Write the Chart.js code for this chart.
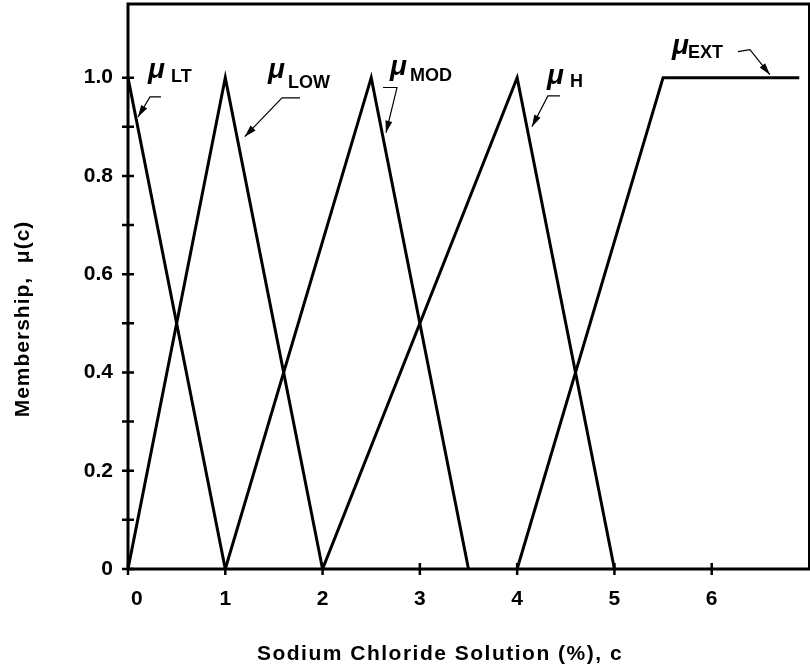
<!DOCTYPE html>
<html>
<head>
<meta charset="utf-8">
<script src="https://cdn.jsdelivr.net/npm/chart.js@4.4.0/dist/chart.umd.min.js"></script>
<style>
  html, body { margin: 0; padding: 0; background: #fff; }
  #wrap { width: 810px; height: 671px; }
</style>
</head>
<body>
<div id="wrap"><canvas id="chart" width="810" height="671"></canvas></div>
<script>
// membership functions (x = % NaCl, y = membership)
const ltX = [0, 1];
const ltY = [1, 0];
const lowX = [0, 1, 2];
const lowY = [0, 1, 0];
const modX = [1, 2.5, 3.5];
const modY = [0, 1, 0];
const hX = [2, 4, 5];
const hY = [0, 1, 0];
const extX = [4, 5.5, 6.9];
const extY = [0, 1, 1];

const xTicks = [0, 1, 2, 3, 4, 5, 6];
const yTicks = [0, 0.1, 0.2, 0.3, 0.4, 0.5, 0.6, 0.7, 0.8, 0.9, 1.0];
const yLabels = { 0: '0', 0.2: '0.2', 0.4: '0.4', 0.6: '0.6', 0.8: '0.8', 1: '1.0' };

const xTitle = 'Sodium Chloride Solution (%), c';
const yTitle = 'Membership,  \u03BC(c)';

const toPts = (xs, ys) => xs.map((x, i) => ({ x: x, y: ys[i] }));

// label placement (data units): mu position, subscript position, leader path (start, bend, tip)
const notes = [
    { sub: 'LT',  mu: [0.206, 1.016], s: [0.442, 1.002], path: [[0.339, 0.961], [0.226, 0.961], [0.103, 0.920]] },
    { sub: 'LOW', mu: [1.439, 1.016], s: [1.644, 0.990], path: [[1.768, 0.959], [1.583, 0.959], [1.200, 0.880]] },
    { sub: 'MOD', mu: [2.693, 1.022], s: [2.898, 1.004], path: [[2.621, 0.980], [2.765, 0.980], [2.652, 0.888]] },
    { sub: 'H',   mu: [4.306, 1.002], s: [4.543, 0.992], path: [[4.440, 0.963], [4.316, 0.963], [4.152, 0.900]] },
    { sub: 'EXT', mu: [5.591, 1.063], s: [5.755, 1.051], path: [[6.269, 1.053], [6.393, 1.057], [6.598, 1.006]] }
];

const FONT = "'Liberation Sans', Arial, sans-serif";

const framePlugin = {
    id: 'frame',
    afterDatasetsDraw(chart) {
        const { ctx, chartArea: a, scales: { x, y } } = chart;
        ctx.save();
        ctx.strokeStyle = '#000';
        ctx.lineCap = 'square';

        // box
        ctx.lineWidth = 3;
        ctx.beginPath();
        ctx.moveTo(a.left, a.bottom);
        ctx.lineTo(a.left, a.top);
        ctx.lineTo(a.right, a.top);
        ctx.moveTo(a.left, a.bottom);
        ctx.lineTo(a.right, a.bottom);
        ctx.stroke();
        ctx.lineWidth = 2;
        ctx.beginPath();
        ctx.moveTo(a.right, a.top);
        ctx.lineTo(a.right, a.bottom);
        ctx.stroke();

        // crossing tick marks
        ctx.lineWidth = 2.5;
        ctx.lineCap = 'butt';
        ctx.beginPath();
        yTicks.forEach(v => {
            const py = y.getPixelForValue(v);
            ctx.moveTo(a.left - 6, py);
            ctx.lineTo(a.left + 6, py);
        });
        xTicks.forEach(v => {
            const px = x.getPixelForValue(v);
            ctx.moveTo(px, a.bottom - 6);
            ctx.lineTo(px, a.bottom + 6);
        });
        ctx.stroke();

        // mu labels with leaders
        ctx.fillStyle = '#000';
        ctx.textBaseline = 'middle';
        ctx.textAlign = 'left';
        notes.forEach(n => {
            ctx.font = "bold italic 28px " + FONT;
            ctx.fillText('\u03BC', x.getPixelForValue(n.mu[0]), y.getPixelForValue(n.mu[1]));
            ctx.font = "bold 18px " + FONT;
            ctx.fillText(n.sub, x.getPixelForValue(n.s[0]), y.getPixelForValue(n.s[1]));

            const p = n.path.map(q => [x.getPixelForValue(q[0]), y.getPixelForValue(q[1])]);
            ctx.lineWidth = 1.2;
            ctx.beginPath();
            ctx.moveTo(p[0][0], p[0][1]);
            ctx.lineTo(p[1][0], p[1][1]);
            ctx.lineTo(p[2][0], p[2][1]);
            ctx.stroke();
            // arrow head
            const ang = Math.atan2(p[2][1] - p[1][1], p[2][0] - p[1][0]);
            const len = 12, w = 3.5;
            ctx.beginPath();
            ctx.moveTo(p[2][0], p[2][1]);
            ctx.lineTo(p[2][0] - len * Math.cos(ang) + w * Math.sin(ang), p[2][1] - len * Math.sin(ang) - w * Math.cos(ang));
            ctx.lineTo(p[2][0] - len * Math.cos(ang) - w * Math.sin(ang), p[2][1] - len * Math.sin(ang) + w * Math.cos(ang));
            ctx.closePath();
            ctx.fill();
        });

        // axis titles (drawn here so they can take the wide tracking of the original)
        ctx.font = "bold 21px " + FONT;
        ctx.letterSpacing = '1.5px';
        ctx.textAlign = 'center';
        ctx.fillText(xTitle, a.left + 312, 654);
        ctx.letterSpacing = '1px';
        ctx.translate(23, 319);
        ctx.rotate(-Math.PI / 2);
        ctx.fillText(yTitle, 0, 0);
        ctx.restore();
    }
};

const line = (label, pts) => ({
    label: label,
    data: pts,
    borderColor: '#000',
    borderWidth: 3,
    pointRadius: 0,
    tension: 0,
    fill: false,
    borderJoinStyle: 'miter'
});

new Chart(document.getElementById('chart'), {
    type: 'line',
    data: {
        datasets: [
            line('LT', toPts(ltX, ltY)),
            line('LOW', toPts(lowX, lowY)),
            line('MOD', toPts(modX, modY)),
            line('H', toPts(hX, hY)),
            line('EXT', toPts(extX, extY))
        ]
    },
    options: {
        responsive: false,
        animation: false,
        devicePixelRatio: 1,
        layout: { padding: { top: 4, right: 1, left: 0, bottom: 0 } },
        plugins: {
            legend: { display: false },
            tooltip: { enabled: false }
        },
        scales: {
            x: {
                type: 'linear',
                min: 0,
                max: 7,
                afterBuildTicks: s => { s.ticks = xTicks.map(v => ({ value: v })); },
                afterFit: s => { s.height = 102; s.paddingLeft = 0; s.paddingRight = 0; },
                grid: { display: false, drawTicks: false },
                border: { display: false },
                ticks: {
                    autoSkip: false,
                    maxRotation: 0,
                    padding: 18,
                    color: '#000',
                    font: { family: FONT, size: 21, weight: 'bold' },
                    callback: v => v === 0 ? '   0' : String(v)
                },
                title: { display: false }
            },
            y: {
                type: 'linear',
                min: 0,
                max: 1.15,
                afterBuildTicks: s => { s.ticks = yTicks.map(v => ({ value: v })); },
                afterFit: s => { s.width = 128; s.paddingTop = 0; s.paddingBottom = 0; },
                grid: { display: false, drawTicks: false },
                border: { display: false },
                ticks: {
                    autoSkip: false,
                    padding: 15,
                    color: '#000',
                    font: { family: FONT, size: 21, weight: 'bold' },
                    callback: v => {
                        const k = Math.round(v * 10) / 10;
                        return yLabels[k] !== undefined ? yLabels[k] : '';
                    }
                },
                title: { display: false }
            }
        }
    },
    plugins: [framePlugin]
});
</script>
</body>
</html>
